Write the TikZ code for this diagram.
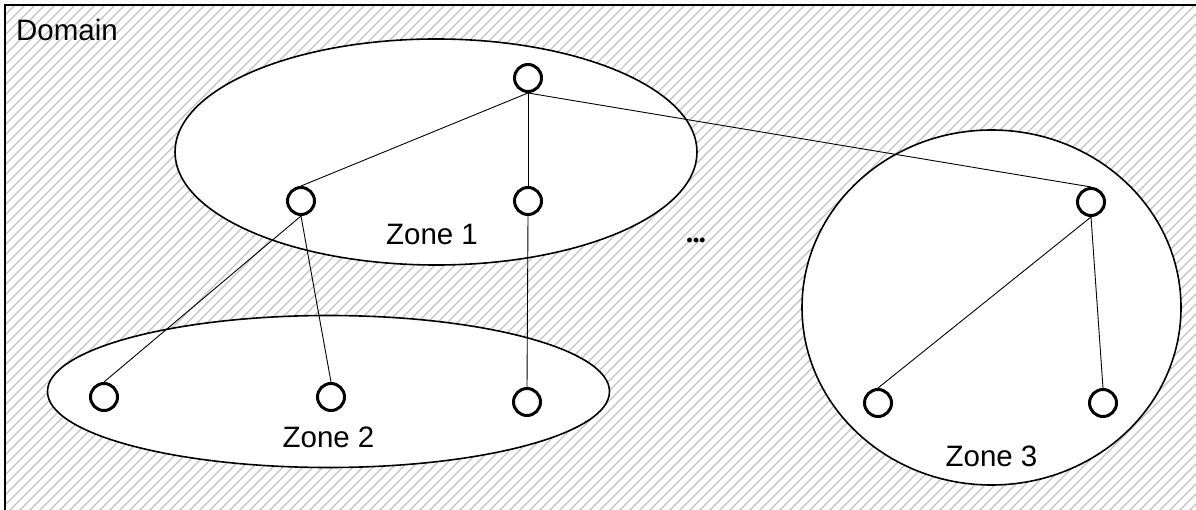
\documentclass[tikz,border=0pt]{standalone}
\usepackage{fontspec}
\setmainfont{Liberation Sans}
\newfontfamily\dotfont{Liberation Serif}
\begin{document}
\begin{tikzpicture}[x=1pt,y=-1pt,
  lbl/.style={font=\fontsize{29.5}{31}\selectfont, inner sep=0pt},
  zone/.style={draw=black, line width=1.6pt, fill=white},
  hub/.style={circle, draw=black, line width=3pt, fill=white, minimum size=27pt, inner sep=0pt},
  link/.style={draw=black, line width=0.9pt},
  hatch/.style={draw=black!24, line width=1.2pt}]
\useasboundingbox (0,0) rectangle (1196,510);
\clip (0,0) rectangle (1196,510);
% domain background with hatch
\fill[white] (0,0) rectangle (1196,510);
\begin{scope}
  \clip (5,5) rectangle (1220,530);
  \foreach \k in {0,...,180} {
    \pgfmathsetmacro{\xa}{-540+10*\k}
    \draw[hatch] (\xa,530) -- (\xa+530,0);
  }
\end{scope}
\draw[black, line width=1.6pt] (5,530) -- (5,5) -- (1220,5);
\node[lbl, anchor=base west] (dom) at (16,41) {Domain};
% zones
\draw[zone] (436,152) ellipse [x radius=261, y radius=113];
\draw[zone] (328.5,391.5) ellipse [x radius=281, y radius=76];
\draw[zone] (991.5,307.5) ellipse [x radius=189.5, y radius=177.5];
\node[lbl, anchor=base] (z1) at (432,245) {Zone 1};
\node[lbl, anchor=base] (z2) at (328.5,447) {Zone 2};
\node[lbl, anchor=base] (z3) at (991.5,466) {Zone 3};
\node[inner sep=0pt, font=\fontsize{30}{30}\selectfont\dotfont\bfseries] (dots) at (696,240) {.\kern-1.2pt.\kern-1.2pt.};
% nodes
\node[hub] (n0) at (528,78) {};
\node[hub] (n1) at (301,201) {};
\node[hub] (n2) at (528,201) {};
\node[hub] (n3) at (1091,202) {};
\node[hub] (n4) at (104,397) {};
\node[hub] (n5) at (331,397) {};
\node[hub] (n6) at (527,402) {};
\node[hub] (n7) at (878,403) {};
\node[hub] (n8) at (1103,403) {};
% links
\path[link] (n0.south) -- (n1.north);
\path[link] (n0.south) -- (n2.north);
\path[link] (n0.south) -- (n3.north);
\path[link] (n1.south) -- (n4.north);
\path[link] (n1.south) -- (n5.north);
\path[link] (n2.south) -- (n6.north);
\path[link] (n3.south) -- (n7.north);
\path[link] (n3.south) -- (n8.north);
\end{tikzpicture}
\end{document}
